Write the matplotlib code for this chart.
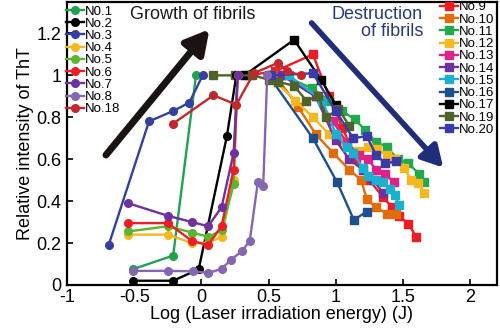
import matplotlib
matplotlib.use("Agg")
import matplotlib.pyplot as plt

plt.rcParams['font.family'] = ['Liberation Sans', 'DejaVu Sans']

# Growth series (circles)
n1_x = [-0.51, -0.21, -0.04]
n1_y = [0.075, 0.14, 1.0]
n2_x = [-0.51, -0.21, -0.02, 0.19, 0.26]
n2_y = [0.02, 0.02, 0.075, 0.71, 1.0]
n3_x = [-0.69, -0.39, -0.21, -0.09, 0.01]
n3_y = [0.19, 0.78, 0.83, 0.87, 1.0]
g_x = [-0.545, -0.25, -0.07, 0.05, 0.15, 0.24, 0.27]
n4_y = [0.24, 0.24, 0.20, 0.20, 0.23, 0.50, 1.0]
n5_y = [0.255, 0.28, 0.25, 0.23, 0.26, 0.48, 1.0]
n6_y = [0.295, 0.295, 0.21, 0.19, 0.28, 0.55, 1.0]
n7_y = [0.39, 0.33, 0.30, 0.28, 0.37, 0.63, 1.0]
n8_x = [-0.51, -0.25, -0.06, 0.05, 0.15, 0.22, 0.30, 0.36, 0.42, 0.46, 0.49]
n8_y = [0.067, 0.067, 0.065, 0.057, 0.076, 0.12, 0.16, 0.21, 0.49, 0.47, 1.0]
n18_x = [-0.21, 0.09, 0.26, 0.39, 0.57, 0.64, 0.74]
n18_y = [0.77, 0.905, 0.86, 1.01, 1.06, 1.02, 1.0]

# Destruction series (squares)
n9_x = [0.35, 0.55, 0.83, 0.95, 1.05, 1.15, 1.25, 1.35, 1.42, 1.47, 1.54, 1.60]
n9_y = [1.0, 1.02, 1.10, 0.90, 0.75, 0.60, 0.50, 0.42, 0.37, 0.33, 0.29, 0.23]
n10_x = [0.55, 0.72, 0.85, 0.98, 1.10, 1.19, 1.23, 1.30, 1.38, 1.45]
n10_y = [1.0, 0.85, 0.72, 0.63, 0.55, 0.50, 0.41, 0.37, 0.34, 0.34]
n11_x = [0.60, 0.82, 0.95, 1.05, 1.14, 1.22, 1.30, 1.38, 1.46, 1.54, 1.62, 1.66]
n11_y = [1.0, 0.94, 0.88, 0.83, 0.79, 0.74, 0.68, 0.66, 0.60, 0.58, 0.53, 0.49]
n12_x = [0.50, 0.70, 0.83, 0.95, 1.06, 1.17, 1.24, 1.31, 1.38, 1.44, 1.51, 1.56, 1.61, 1.66]
n12_y = [1.0, 0.88, 0.80, 0.72, 0.68, 0.64, 0.66, 0.65, 0.62, 0.60, 0.56, 0.50, 0.485, 0.44]
n13_x = [0.60, 0.85, 0.98, 1.08, 1.17, 1.24, 1.30, 1.37, 1.43]
n13_y = [1.0, 0.90, 0.78, 0.68, 0.62, 0.60, 0.55, 0.53, 0.49]
n14_x = [0.60, 0.85, 1.00, 1.10, 1.20, 1.28, 1.35]
n14_y = [1.0, 0.90, 0.69, 0.60, 0.55, 0.50, 0.44]
n15_x = [0.65, 0.90, 1.00, 1.08, 1.13, 1.20, 1.24, 1.30, 1.35, 1.40, 1.44, 1.47]
n15_y = [1.0, 0.88, 0.72, 0.66, 0.63, 0.56, 0.52, 0.50, 0.49, 0.46, 0.43, 0.38]
n16_x = [0.50, 0.83, 1.01, 1.135, 1.23]
n16_y = [1.0, 0.70, 0.49, 0.31, 0.35]
n17_x = [0.32, 0.69, 0.89, 1.00]
n17_y = [1.0, 1.17, 0.98, 0.86]
n19_x = [0.09, 0.25, 0.38, 0.50, 0.57, 0.69, 0.78, 0.87, 0.93, 1.02, 1.10]
n19_y = [1.0, 1.0, 1.0, 0.98, 0.97, 0.95, 0.88, 0.90, 0.80, 0.84, 0.76]
n20_x = [0.52, 0.83, 1.00, 1.13, 1.23, 1.30, 1.37, 1.45]
n20_y = [1.0, 1.01, 0.83, 0.70, 0.71, 0.62, 0.58, 0.59]

growth = [
    ("N0.1", n1_x, n1_y, "#21a250"),
    ("No.2", n2_x, n2_y, "#000000"),
    ("No.3", n3_x, n3_y, "#3340a0"),
    ("No.4", g_x, n4_y, "#f5b820"),
    ("No.5", g_x, n5_y, "#5ab62e"),
    ("No.6", g_x, n6_y, "#ee1c24"),
    ("No.7", g_x, n7_y, "#7030a0"),
    ("No.8", n8_x, n8_y, "#8467b0"),
    ("No.18", n18_x, n18_y, "#c1272d"),
]
destruction = [
    ("No.9", n9_x, n9_y, "#ee1c24"),
    ("No.10", n10_x, n10_y, "#e36c0a"),
    ("No.11", n11_x, n11_y, "#22a94f"),
    ("No.12", n12_x, n12_y, "#f5b820"),
    ("No.13", n13_x, n13_y, "#e0218a"),
    ("No.14", n14_x, n14_y, "#7030a0"),
    ("No.15", n15_x, n15_y, "#1ab0d0"),
    ("No.16", n16_x, n16_y, "#1f4e8c"),
    ("No.17", n17_x, n17_y, "#000000"),
    ("No.19", n19_x, n19_y, "#4f6228"),
    ("No.20", n20_x, n20_y, "#3a3aa8"),
]

fig = plt.figure(figsize=(5, 3.36), dpi=100)
ax = fig.add_axes([0.134, 0.152, 0.86, 0.842])

gh, dh = [], []
for name, x, y, c in destruction:
    l, = ax.plot(x, y, color=c, lw=1.7, marker='s', ms=6, label=name)
    dh.append(l)
for name, x, y, c in growth:
    l, = ax.plot(x, y, color=c, lw=1.7, marker='o', ms=5.5, label=name)
    gh.append(l)

ax.set_xlim(-1, 2.2)
ax.set_ylim(0, 1.35)
ax.set_xticks([-1, -0.5, 0, 0.5, 1, 1.5, 2])
ax.set_xticklabels(["-1", "-0.5", "0", "0.5", "1", "1.5", "2"])
ax.set_yticks([0, 0.2, 0.4, 0.6, 0.8, 1.0, 1.2])
ax.set_yticklabels(["0", "0.2", "0.4", "0.6", "0.8", "1", "1.2"])
ax.tick_params(direction='in', labelsize=13, width=1.2, length=4)
ax.tick_params(axis='x', pad=3)
ax.tick_params(axis='y', pad=4)
for s in ax.spines.values():
    s.set_linewidth(1.6)
ax.set_xlabel("Log (Laser irradiation energy) (J)", fontsize=13, labelpad=0)
ax.set_ylabel("Relative intensity of ThT", fontsize=13, labelpad=2)

# Arrows
ax.annotate("", xy=(0.06, 1.22), xytext=(-0.71, 0.62),
            arrowprops=dict(arrowstyle='-|>,head_width=0.55,head_length=1.0',
                            lw=5, color='#1a1311', mutation_scale=14,
                            shrinkA=0, shrinkB=0))
ax.annotate("", xy=(1.80, 0.56), xytext=(0.82, 1.25),
            arrowprops=dict(arrowstyle='-|>,head_width=0.5,head_length=0.9',
                            lw=4, color='#1f2d7a', mutation_scale=14,
                            shrinkA=0, shrinkB=0))
ax.text(0.147, 0.955, "Growth of fibrils", transform=ax.transAxes,
        fontsize=13, ha='left', va='center', color='#1a1a1a')
ax.text(0.828, 0.955, "Destruction", transform=ax.transAxes,
        fontsize=13, ha='right', va='center', color='#263a7e')
ax.text(0.828, 0.895, "of fibrils", transform=ax.transAxes,
        fontsize=13, ha='right', va='center', color='#263a7e')

leg1 = ax.legend(handles=gh, loc='upper left', bbox_to_anchor=(-0.01, 1.0),
                 frameon=False, fontsize=9.5, labelspacing=0.0,
                 handlelength=1.4, handletextpad=0.05, borderpad=0.15,
                 borderaxespad=0.1)
ax.add_artist(leg1)
ax.legend(handles=dh, loc='upper right', bbox_to_anchor=(1.0, 1.012),
          frameon=False, fontsize=9.5, labelspacing=0.0,
          handlelength=1.4, handletextpad=0.05, borderpad=0.1,
          borderaxespad=0.1)

fig.savefig("out.png", dpi=100)
